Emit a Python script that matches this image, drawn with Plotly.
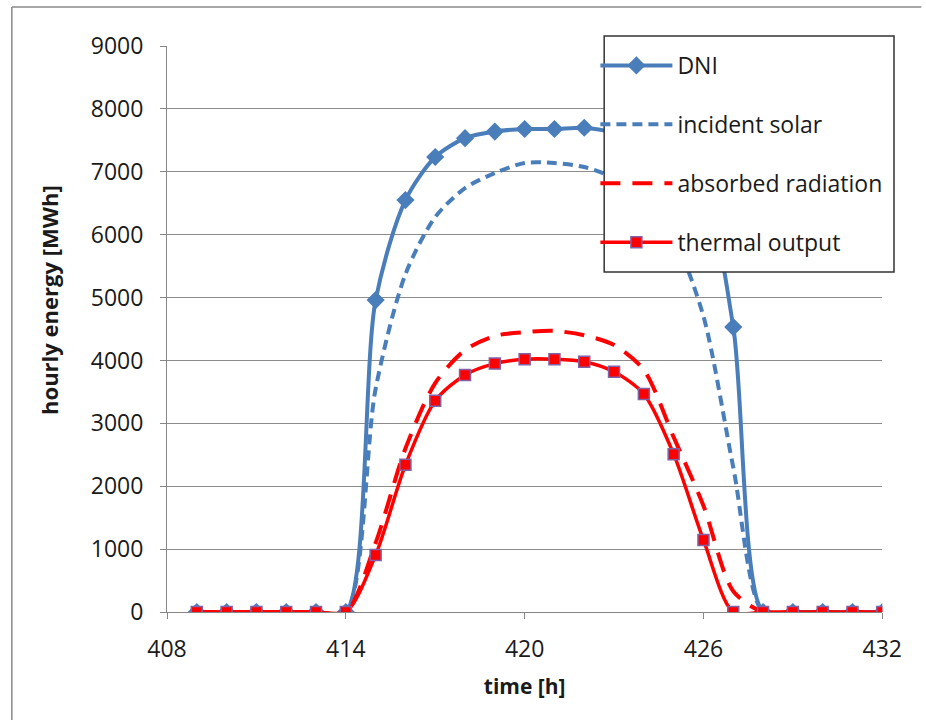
import plotly.graph_objects as go

hours = list(range(409, 433))
dni = [0, 0, 0, 0, 0, 0, 4960, 6550, 7235, 7535, 7640, 7680, 7680, 7700,
       7620, 7450, 7050, 6700, 4530, 0, 0, 0, 0, 0]
incident = [0, 0, 0, 0, 0, 0, 3550, 5370, 6280, 6740, 6980, 7140, 7140, 7075,
            6900, 6550, 5950, 4700, 2300, 0, 0, 0, 0, 0]
absorbed = [0, 0, 0, 0, 0, 0, 1100, 2600, 3640, 4165, 4390, 4450, 4470, 4400,
            4245, 3850, 2780, 1690, 330, 0, 0, 0, 0, 0]
thermal = [0, 0, 0, 0, 0, 0, 906, 2340, 3360, 3770, 3950, 4020, 4020, 3980,
           3820, 3465, 2510, 1145, 0, 0, 0, 0, 0, 0]
x_ticks = [408, 414, 420, 426, 432]
y_ticks = list(range(0, 9001, 1000))

BLUE = "#4A7EBB"
RED = "#FF0000"
FONT = "Open Sans"

# pixel layout helpers
L, R, T, B = 167, 912, 36, 612          # paper area (margins)
PX, PY = R - L, B - T
def px(x):
    return (x - L) / PX
def py(y):
    return (B - y) / PY

fig = go.Figure()
fig.add_trace(go.Scatter(
    x=hours, y=dni, name="DNI", legendgroup="a",
    mode="lines+markers",
    line=dict(color=BLUE, width=4, shape="spline", smoothing=0.8),
    marker=dict(symbol="diamond", size=14, color=BLUE)))
fig.add_trace(go.Scatter(
    x=hours, y=incident, name="incident solar", legendgroup="b",
    mode="lines",
    line=dict(color=BLUE, width=4, dash="10px,6px", shape="spline", smoothing=0.8)))
fig.add_trace(go.Scatter(
    x=hours, y=absorbed, name="absorbed radiation", legendgroup="c",
    mode="lines",
    line=dict(color=RED, width=4, dash="20px,12px", shape="spline", smoothing=0.8)))
fig.add_trace(go.Scatter(
    x=hours, y=thermal, name="thermal output", legendgroup="d",
    mode="lines+markers",
    line=dict(color=RED, width=3.5, shape="spline", smoothing=0.8),
    marker=dict(symbol="square", size=11, color=RED,
                line=dict(color="#7F62A8", width=1.5))))

fig.update_layout(
    width=926, height=720, autosize=False,
    margin=dict(l=L, r=926 - R, t=T, b=720 - B),
    paper_bgcolor="white", plot_bgcolor="white",
    font=dict(family=FONT, size=23, color="#1a1a1a"),
    showlegend=True,
    legend=dict(
        x=px(606), y=py(44), xanchor="left", yanchor="top",
        bgcolor="rgba(0,0,0,0)", borderwidth=0,
        font=dict(family=FONT, size=23, color="#1a1a1a"),
        tracegroupgap=26, itemwidth=72,
    ),
    xaxis=dict(
        domain=[0, px(900)],
        range=[408, 432], tickvals=x_ticks, ticktext=[str(v) for v in x_ticks],
        showgrid=False, zeroline=False,
        showline=True, linecolor="#868686", linewidth=1,
        ticks="outside", ticklen=6, tickcolor="#868686",
        tickfont=dict(family=FONT, size=23), ticklabelstandoff=10,
        title=dict(text="<b>time [h]</b>", font=dict(family=FONT, size=21), standoff=16),
    ),
    yaxis=dict(
        domain=[0, py(46)],
        range=[0, 9000], tickvals=y_ticks,
        showgrid=True, gridcolor="#8c8c8c", gridwidth=1,
        zeroline=False,
        showline=True, linecolor="#868686", linewidth=1,
        ticks="outside", ticklen=6, tickcolor="#868686",
        tickfont=dict(family=FONT, size=23), ticklabelstandoff=12,
    ),
    annotations=[dict(
        text="<b>hourly energy [MWh]</b>", textangle=-90,
        xref="paper", yref="paper", x=px(46), y=py(300),
        xanchor="center", yanchor="middle", showarrow=False,
        font=dict(family=FONT, size=22, color="#1a1a1a"))],
    shapes=[
        dict(type="line", xref="paper", yref="paper",
             x0=px(8), x1=px(940), y0=py(7), y1=py(7),
             line=dict(color="#8a8a8a", width=1.5), layer="below"),
        dict(type="line", xref="paper", yref="paper",
             x0=px(8), x1=px(8), y0=py(7), y1=py(720),
             line=dict(color="#8a8a8a", width=1.5), layer="below"),
        dict(type="rect", xref="paper", yref="paper",
             x0=px(615), x1=px(912), y0=py(272), y1=py(36),
             fillcolor="white", line=dict(color="#333333", width=1.5), layer="above"),
    ],
)

POST = (
    "document.documentElement.style.overflow='hidden';"
    "document.body.style.margin='0';"
)

fig.write_html("out.html", config={"displayModeBar": False},
               post_script=POST)
